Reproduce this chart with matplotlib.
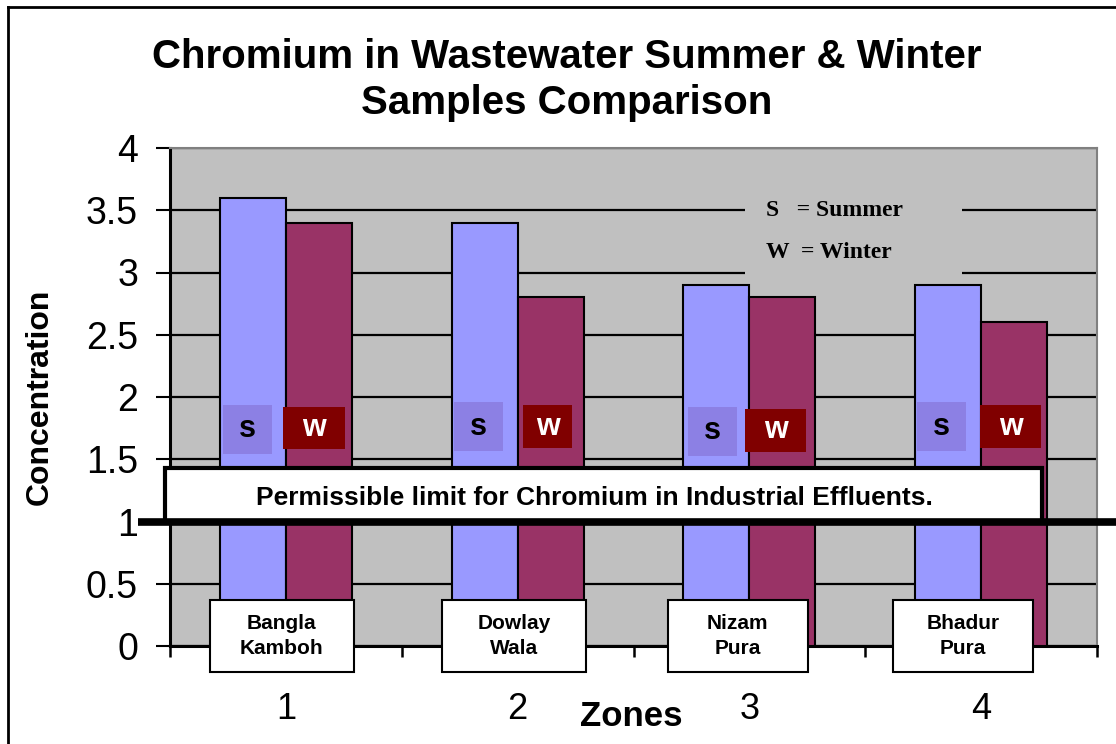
import matplotlib
matplotlib.use('Agg')
import matplotlib.pyplot as plt
from matplotlib.patches import Rectangle
from matplotlib.lines import Line2D
import numpy as np

# ---- data ----
zones = [1, 2, 3, 4]
zone_names = ['Bangla\nKamboh', 'Dowlay\nWala', 'Nizam\nPura', 'Bhadur\nPura']
summer = [3.6, 3.4, 2.9, 2.9]
winter = [3.4, 2.8, 2.8, 2.6]
yticks = [0, 0.5, 1, 1.5, 2, 2.5, 3, 3.5, 4]
ytick_labels = ['0', '0.5', '1', '1.5', '2', '2.5', '3', '3.5', '4']
limit_value = 1.0
title_lines = ['Chromium in Wastewater Summer & Winter', 'Samples Comparison']
limit_text = 'Permissible limit for Chromium in Industrial Effluents.'

# ---- layout (annotation positions, relative to category centres) ----
s_boxes = [(-0.271, 1.542, 1.936), (-0.275, 1.566, 1.960), (-0.265, 1.526, 1.920), (-0.277, 1.566, 1.960)]
w_boxes = [(-0.012, 1.582, 1.920), (0.023, 1.590, 1.936), (-0.019, 1.558, 1.904), (-0.005, 1.590, 1.936)]
zone_box_off = [-0.017, -0.015, -0.05, -0.078]

SANS = ['Liberation Sans', 'DejaVu Sans']
SERIF = ['Liberation Serif', 'DejaVu Serif']

fig = plt.figure(figsize=(11.16, 7.44), dpi=100)
W, H = 1116.0, 744.0
ax = fig.add_axes([170 / W, 1 - 646 / H, (1097 - 170) / W, (646 - 148) / H])
ax.set_facecolor('#C0C0C0')

x = np.array(zones, dtype=float)
bw = 0.285
ax.bar(x - bw / 2, summer, bw, color='#9999FF', edgecolor='black', linewidth=1.5, zorder=3)
ax.bar(x + bw / 2, winter, bw, color='#993366', edgecolor='black', linewidth=1.5, zorder=3)

ax.set_xlim(0.5, 4.5)
ax.set_ylim(0, 4)
ax.set_yticks(yticks)
ax.set_yticklabels(ytick_labels, fontsize=27, family=SANS)
ax.tick_params(axis='y', direction='out', length=10, width=1.5, pad=13)
ax.yaxis.grid(True, color='black', linewidth=1.6)
ax.set_axisbelow(True)

ax.set_xticks(zones)
ax.set_xticklabels([str(z) for z in zones], fontsize=26, family=SANS)
ax.tick_params(axis='x', which='major', length=0, pad=33)
ax.set_xticks(np.arange(0.5, 4.6, 1.0), minor=True)
ax.tick_params(axis='x', which='minor', direction='out', length=8, width=1.8)

for side in ['left', 'bottom']:
    ax.spines[side].set_color('black')
    ax.spines[side].set_linewidth(2.2)
for side in ['top', 'right']:
    ax.spines[side].set_color('#808080')
    ax.spines[side].set_linewidth(1.5)

# legend text box (gray, hides gridlines)
ax.add_patch(Rectangle((2.981, 2.95), 0.936, 0.78, facecolor='#C0C0C0', edgecolor='none', zorder=1))
ax.text(3.072, 3.494, 'S   = Summer', family=SERIF, weight='bold', fontsize=17, va='center', ha='left', zorder=4)
ax.text(3.072, 3.157, 'W  = Winter', family=SERIF, weight='bold', fontsize=17, va='center', ha='left', zorder=4)

# s / w tags
tag_w = 0.211
for i, z in enumerate(zones):
    so, sy0, sy1 = s_boxes[i]
    ax.add_patch(Rectangle((z + so, sy0), tag_w, sy1 - sy0, facecolor='#8C80E4', edgecolor='none', zorder=4))
    ax.text(z + so + tag_w / 2, (sy0 + sy1) / 2, 's', family=SANS, weight='bold', fontsize=22,
            ha='center', va='center', color='black', zorder=5)
    wo, wy0, wy1 = w_boxes[i]
    ww = 0.265 if i in (0, 2, 3) else 0.212
    ax.add_patch(Rectangle((z + wo, wy0), ww, wy1 - wy0, facecolor='#800000', edgecolor='none', zorder=4))
    ax.text(z + wo + ww / 2, (wy0 + wy1) / 2, 'w', family=SANS, weight='bold', fontsize=22,
            ha='center', va='center', color='white', zorder=5)

# permissible limit box and line
ax.add_patch(Rectangle((0.478, limit_value), 4.263 - 0.478, 1.43 - limit_value, facecolor='white',
                       edgecolor='black', linewidth=3, zorder=6, clip_on=False))
ax.text(2.33, 1.19, limit_text, family=SANS, weight='bold', fontsize=19, ha='center', va='center', zorder=7)
ax.plot([0.36, 4.585], [limit_value, limit_value], color='black', linewidth=5.5, zorder=7,
        clip_on=False, solid_capstyle='butt')

# zone name boxes
for i, z in enumerate(zones):
    cx = z + zone_box_off[i]
    bwid = 0.62 if i < 2 else 0.604
    ax.add_patch(Rectangle((cx - bwid / 2, -0.21), bwid, 0.58, facecolor='white', edgecolor='black',
                           linewidth=1.5, zorder=8, clip_on=False))
    ax.text(cx, 0.08, zone_names[i], family=SANS, weight='bold', fontsize=15, ha='center', va='center',
            linespacing=1.35, zorder=9, clip_on=False)

# axis labels
fig.text(631 / W, 1 - 716 / H, 'Zones', family=SANS, weight='bold', fontsize=25, ha='center', va='center')
fig.text(40 / W, 1 - 397 / H, 'Concentration', family=SANS, weight='bold', fontsize=23, ha='center',
         va='center', rotation=90)

# title
fig.text(567 / W, 1 - 57 / H, title_lines[0], family=SANS, weight='bold', fontsize=29, ha='center', va='center')
fig.text(567 / W, 1 - 103 / H, title_lines[1], family=SANS, weight='bold', fontsize=29, ha='center', va='center')

# outer chart frame (left and top visible)
fig.add_artist(Line2D([8 / W, 8 / W], [0, 1 - 7 / H], color='black', linewidth=2, transform=fig.transFigure))
fig.add_artist(Line2D([8 / W, 1], [1 - 7 / H, 1 - 7 / H], color='black', linewidth=2, transform=fig.transFigure))

fig.savefig('out.png', dpi=100)
